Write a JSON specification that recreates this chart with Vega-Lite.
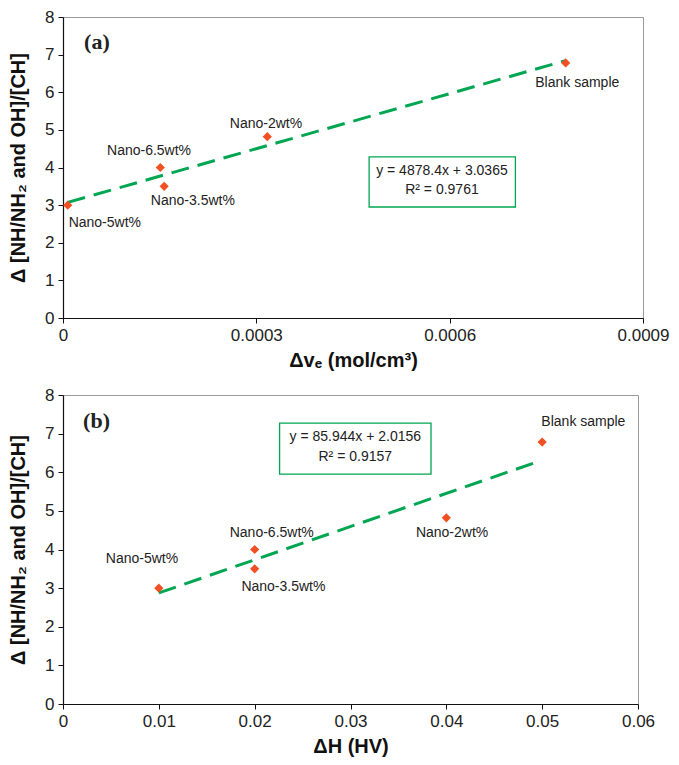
{
  "$schema": "https://vega.github.io/schema/vega-lite/v6.json",
  "padding": {"left": 8, "top": 7, "right": 5, "bottom": 2},
  "spacing": 14,
  "background": "white",
  "datasets": {
    "pa": [
      {"sample": "Nano-5wt%", "x": 0.0000073, "y": 3.0},
      {"sample": "Nano-6.5wt%", "x": 0.000151, "y": 4.0},
      {"sample": "Nano-3.5wt%", "x": 0.000157, "y": 3.5},
      {"sample": "Nano-2wt%", "x": 0.000317, "y": 4.82},
      {"sample": "Blank sample", "x": 0.00078, "y": 6.78}
    ],
    "la": [
      {"sample": "Nano-5wt%", "x": 0.0000649, "y": 2.52},
      {"sample": "Nano-6.5wt%", "x": 0.0001335, "y": 4.43},
      {"sample": "Nano-3.5wt%", "x": 0.0002015, "y": 3.1},
      {"sample": "Nano-2wt%", "x": 0.000315, "y": 5.15},
      {"sample": "Blank sample", "x": 0.000798, "y": 6.25}
    ],
    "pb": [
      {"sample": "Nano-5wt%", "x": 0.01, "y": 3.0},
      {"sample": "Nano-6.5wt%", "x": 0.02, "y": 4.0},
      {"sample": "Nano-3.5wt%", "x": 0.02, "y": 3.5},
      {"sample": "Nano-2wt%", "x": 0.04, "y": 4.82},
      {"sample": "Blank sample", "x": 0.05, "y": 6.78}
    ],
    "lb": [
      {"sample": "Nano-5wt%", "x": 0.00824, "y": 3.75},
      {"sample": "Nano-6.5wt%", "x": 0.02178, "y": 4.43},
      {"sample": "Nano-3.5wt%", "x": 0.023, "y": 3.02},
      {"sample": "Nano-2wt%", "x": 0.0406, "y": 4.43},
      {"sample": "Blank sample", "x": 0.0543, "y": 7.3}
    ]
  },
  "vconcat": [
    {
      "width": 580,
      "height": 301,
      "encoding": {
        "x": {"field": "x", "type": "quantitative", "scale": {"domain": [0, 0.0009], "nice": false, "zero": false},
          "axis": {"title": "Δvₑ (mol/cm³)", "values": [0, 0.0003, 0.0006, 0.0009], "format": ".4~f", "titlePadding": 7}},
        "y": {"field": "y", "type": "quantitative", "scale": {"domain": [0, 8], "nice": false},
          "axis": {"title": "Δ [NH/NH₂ and OH]/[CH]", "values": [0, 1, 2, 3, 4, 5, 6, 7, 8], "titlePadding": 16}}
      },
      "layer": [
        {
          "data": {"values": [{"x": 0.0000073, "y": 3.072}, {"x": 0.00078, "y": 6.841}]},
          "mark": {"type": "line", "color": "#00A651", "strokeWidth": 3, "strokeDash": [18, 9]}
        },
        {
          "data": {"values": [{"x": 0.000475, "x2": 0.000702, "y": 4.28, "y2": 2.95}]},
          "mark": {"type": "rect", "fill": "white", "stroke": "#00A651", "strokeWidth": 1.3},
          "encoding": {"x2": {"field": "x2"}, "y2": {"field": "y2"}}
        },
        {
          "data": {"values": [{"x": 0.000588, "y": 3.91, "t": "y = 4878.4x + 3.0365"}, {"x": 0.000588, "y": 3.4, "t": "R² = 0.9761"}]},
          "mark": {"type": "text", "font": "Liberation Sans", "fontSize": 14, "color": "#222"},
          "encoding": {"text": {"field": "t"}}
        },
        {
          "data": {"name": "pa"},
          "mark": {"type": "point", "shape": "diamond", "filled": true, "size": 85, "color": "#F05023", "opacity": 1}
        },
        {
          "data": {"name": "la"},
          "mark": {"type": "text", "font": "Liberation Sans", "fontSize": 14, "color": "#222"},
          "encoding": {"text": {"field": "sample"}}
        },
        {
          "data": {"values": [{"x": 0.0000526, "y": 7.33, "t": "(a)"}]},
          "mark": {"type": "text", "font": "Liberation Serif", "fontWeight": "bold", "fontSize": 22, "color": "#222"},
          "encoding": {"text": {"field": "t"}}
        }
      ]
    },
    {
      "width": 575,
      "height": 309,
      "encoding": {
        "x": {"field": "x", "type": "quantitative", "scale": {"domain": [0, 0.06], "nice": false, "zero": false},
          "axis": {"title": "ΔH (HV)", "values": [0, 0.01, 0.02, 0.03, 0.04, 0.05, 0.06], "format": ".2~f", "titlePadding": 7}},
        "y": {"field": "y", "type": "quantitative", "scale": {"domain": [0, 8], "nice": false},
          "axis": {"title": "Δ [NH/NH₂ and OH]/[CH]", "values": [0, 1, 2, 3, 4, 5, 6, 7, 8], "titlePadding": 16}}
      },
      "layer": [
        {
          "data": {"values": [{"x": 0.01, "y": 2.875}, {"x": 0.0497, "y": 6.287}]},
          "mark": {"type": "line", "color": "#00A651", "strokeWidth": 3, "strokeDash": [18, 9]}
        },
        {
          "data": {"values": [{"x": 0.0226, "x2": 0.0384, "y": 7.27, "y2": 5.95}]},
          "mark": {"type": "rect", "fill": "white", "stroke": "#00A651", "strokeWidth": 1.3},
          "encoding": {"x2": {"field": "x2"}, "y2": {"field": "y2"}}
        },
        {
          "data": {"values": [{"x": 0.0305, "y": 6.91, "t": "y = 85.944x + 2.0156"}, {"x": 0.0305, "y": 6.39, "t": "R² = 0.9157"}]},
          "mark": {"type": "text", "font": "Liberation Sans", "fontSize": 14, "color": "#222"},
          "encoding": {"text": {"field": "t"}}
        },
        {
          "data": {"name": "pb"},
          "mark": {"type": "point", "shape": "diamond", "filled": true, "size": 85, "color": "#F05023", "opacity": 1}
        },
        {
          "data": {"name": "lb"},
          "mark": {"type": "text", "font": "Liberation Sans", "fontSize": 14, "color": "#222"},
          "encoding": {"text": {"field": "sample"}}
        },
        {
          "data": {"values": [{"x": 0.0035, "y": 7.33, "t": "(b)"}]},
          "mark": {"type": "text", "font": "Liberation Serif", "fontWeight": "bold", "fontSize": 22, "color": "#222"},
          "encoding": {"text": {"field": "t"}}
        }
      ]
    }
  ],
  "config": {
    "view": {"stroke": "#9a9a9a", "strokeWidth": 1},
    "axis": {
      "grid": false,
      "domainColor": "#111",
      "domainWidth": 1.2,
      "tickColor": "#111",
      "tickSize": 5,
      "labelFont": "Liberation Sans",
      "labelFontSize": 17,
      "labelColor": "#222",
      "labelPadding": 4,
      "titleFont": "Liberation Sans",
      "titleFontSize": 20,
      "titleFontWeight": "bold",
      "titleColor": "#111"
    },
    "axisX": {"labelFlush": false}
  }
}
